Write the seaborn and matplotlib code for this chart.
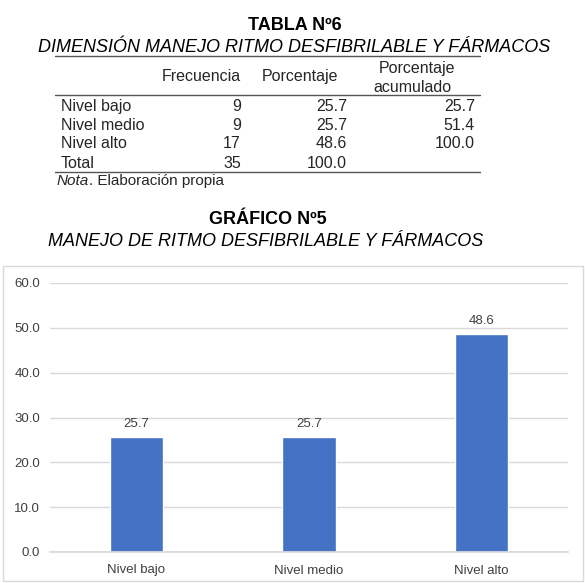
import matplotlib
matplotlib.use("Agg")
import matplotlib.pyplot as plt
import seaborn as sns
import pandas as pd
from matplotlib.patches import Rectangle
from matplotlib.lines import Line2D

# ---- data ----
categories = ["Nivel bajo", "Nivel medio", "Nivel alto"]
porcentaje = [25.7, 25.7, 48.6]
frecuencia = [9, 9, 17]
acumulado = [25.7, 51.4, 100.0]
total_frecuencia = 35
total_porcentaje = 100.0
yticks = [0, 10, 20, 30, 40, 50, 60]

table_title = "TABLA Nº6"
table_subtitle = "DIMENSIÓN MANEJO RITMO DESFIBRILABLE Y FÁRMACOS"
chart_title = "GRÁFICO Nº5"
chart_subtitle = "MANEJO DE RITMO DESFIBRILABLE Y FÁRMACOS"

sns.set_theme(style="white")
plt.rcParams["font.family"] = ["Liberation Sans", "DejaVu Sans"]

W, H = 585, 583
fig = plt.figure(figsize=(W / 100, H / 100), dpi=100)
fig.patch.set_facecolor("white")

def fx(x):
    return x / W

def fy(y):
    return 1 - y / H

# ---- table ----
fig.text(fx(295), fy(25), table_title, ha="center", va="center",
         fontsize=13, fontweight="bold", color="black")
fig.text(fx(294), fy(47), table_subtitle, ha="center", va="center",
         fontsize=13, fontstyle="italic", color="black")

for yl in (56, 95, 172):
    fig.add_artist(Line2D([fx(55), fx(480)], [fy(yl), fy(yl)],
                          color="#555555", lw=1.0, transform=fig.transFigure))

fs = 11.5
fig.text(fx(201), fy(76), "Frecuencia", ha="center", va="center", fontsize=fs)
fig.text(fx(300), fy(76), "Porcentaje", ha="center", va="center", fontsize=fs)
fig.text(fx(417), fy(68), "Porcentaje", ha="center", va="center", fontsize=fs)
fig.text(fx(412), fy(87), "acumulado", ha="center", va="center", fontsize=fs)

row_y = [106, 125, 144, 163]
for i, cat in enumerate(categories):
    y = fy(row_y[i])
    fig.text(fx(61), y, cat, ha="left", va="center", fontsize=fs)
    fig.text(fx(241), y, f"{frecuencia[i]}", ha="right", va="center", fontsize=fs)
    fig.text(fx(347), y, f"{porcentaje[i]:.1f}", ha="right", va="center", fontsize=fs)
    fig.text(fx(475), y, f"{acumulado[i]:.1f}", ha="right", va="center", fontsize=fs)
y = fy(row_y[3])
fig.text(fx(61), y, "Total", ha="left", va="center", fontsize=fs)
fig.text(fx(241), y, f"{total_frecuencia}", ha="right", va="center", fontsize=fs)
fig.text(fx(347), y, f"{total_porcentaje:.1f}", ha="right", va="center", fontsize=fs)

renderer = fig.canvas.get_renderer()
t1 = fig.text(fx(57), fy(181), "Nota", ha="left", va="center", fontsize=11,
              fontstyle="italic")
bb = t1.get_window_extent(renderer=renderer)
fig.text(bb.x1 / (W), fy(181), ". Elaboración propia", ha="left", va="center",
         fontsize=11)

# ---- chart titles ----
fig.text(fx(268), fy(220), chart_title, ha="center", va="center",
         fontsize=13, fontweight="bold", color="black")
fig.text(fx(266), fy(242), chart_subtitle, ha="center", va="center",
         fontsize=13, fontstyle="italic", color="black")

# chart frame
fig.add_artist(Rectangle((fx(3), fy(581)), fx(580), (581 - 266) / H,
                         transform=fig.transFigure, fill=False,
                         edgecolor="#D9D9D9", lw=1.0))

# ---- bar chart ----
ax = fig.add_axes([fx(50), fy(552), fx(518), (552 - 283) / H])
df = pd.DataFrame({"categoria": categories, "porcentaje": porcentaje})
sns.barplot(data=df, x="categoria", y="porcentaje", color="#4472C4",
            saturation=1, width=0.31, ax=ax)
ax.set_ylim(0, 60)
ax.set_xlim(-0.5, 2.5)
ax.set_yticks(yticks)
ax.set_yticklabels([f"{v:.1f}" for v in yticks])
ax.yaxis.grid(True, color="#D9D9D9", lw=1.0)
ax.set_axisbelow(True)
for s in ("top", "right", "left"):
    ax.spines[s].set_visible(False)
ax.spines["bottom"].set_color("#D9D9D9")
ax.set_xlabel("")
ax.set_ylabel("")
ax.tick_params(axis="both", length=0, labelsize=9.5, colors="#404040", pad=7)
ax.tick_params(axis="x", pad=9)
for c in ax.containers:
    ax.bar_label(c, labels=[f"{v:.1f}" for v in porcentaje], padding=5,
                 fontsize=9.5, color="#404040")

fig.savefig("out.png", dpi=100, facecolor="white")
